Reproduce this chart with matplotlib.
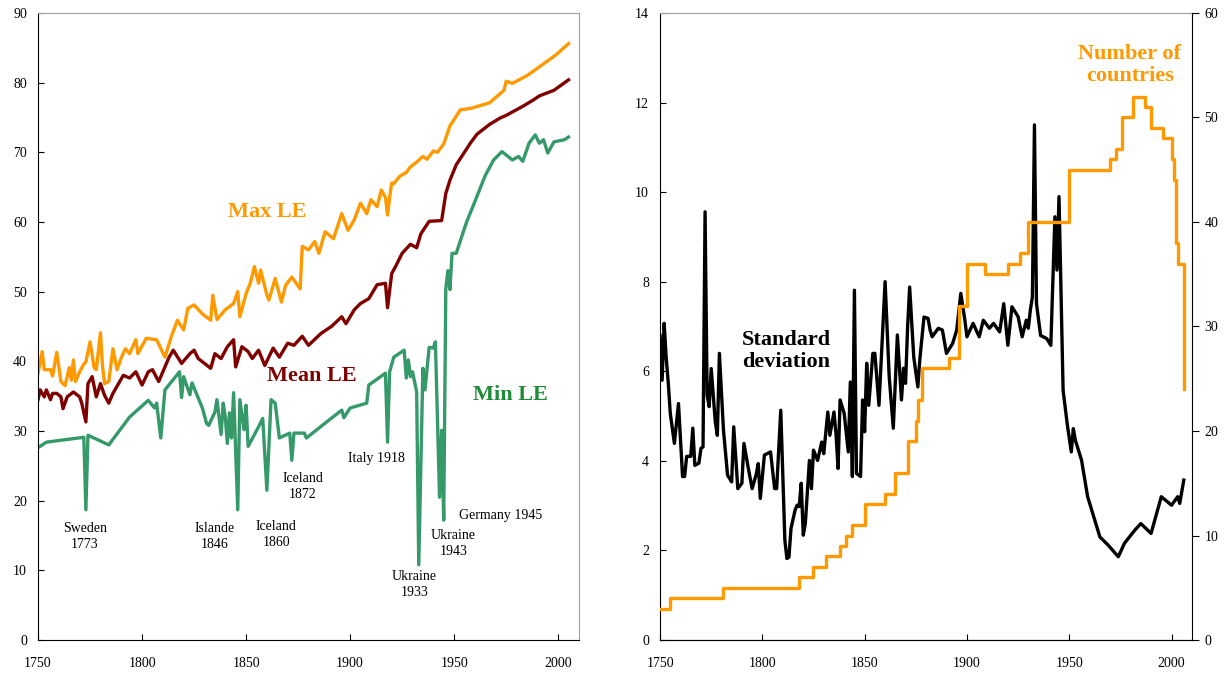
import matplotlib
matplotlib.use("Agg")
import matplotlib.pyplot as plt

plt.rcParams['font.family'] = ['Liberation Serif', 'DejaVu Serif']

# ---- left panel: life expectancy (max / mean / min) ----
max_years = [1750, 1752, 1753, 1756, 1757, 1759, 1761, 1763, 1765, 1766, 1767, 1768, 1770, 1772, 1773,
             1775, 1777, 1778, 1780, 1781, 1782, 1784, 1786, 1788, 1790, 1792, 1794, 1797, 1798, 1802,
             1807, 1811, 1814, 1817, 1820, 1822, 1825, 1829, 1833, 1834, 1836, 1840, 1844, 1846, 1847,
             1850, 1852, 1854, 1856, 1857, 1860, 1861, 1864, 1867, 1869, 1872, 1876, 1877, 1880, 1883,
             1885, 1888, 1892, 1896, 1899, 1902, 1905, 1908, 1910, 1913, 1915, 1917, 1918, 1919, 1920,
             1921, 1924, 1927, 1929, 1932, 1935, 1937, 1940, 1942, 1945, 1948, 1953, 1958, 1967, 1974,
             1975, 1978, 1985, 1993, 1999, 2005]
max_le = [38.3, 41.4, 38.8, 38.8, 37.9, 41.3, 37.1, 36.5, 39.1, 37.3, 40.2, 37.1, 38.5, 39.6, 39.9,
          42.8, 39.1, 38.8, 44.1, 39.3, 36.8, 37.1, 41.8, 38.8, 40.5, 41.8, 41.1, 43.1, 41.1, 43.3,
          43.1, 40.6, 43.5, 45.9, 44.5, 47.6, 48.1, 46.8, 45.9, 49.5, 46.0, 47.4, 48.3, 50.0, 46.4,
          49.7, 51.2, 53.6, 51.2, 53.1, 49.5, 48.8, 51.9, 48.5, 50.9, 52.1, 50.4, 56.5, 56.0, 57.2,
          55.5, 58.6, 57.6, 61.2, 58.8, 60.3, 62.7, 61.2, 63.2, 62.2, 64.6, 63.5, 61.0, 63.5, 65.6,
          65.5, 66.6, 67.1, 67.9, 68.6, 69.4, 69.0, 70.2, 70.0, 71.2, 73.8, 76.1, 76.3, 77.1, 78.9,
          80.2, 79.9, 81.0, 82.7, 84.0, 85.6]

mean_years = [1750, 1751, 1753, 1754, 1756, 1757, 1759, 1761, 1762, 1764, 1767, 1770, 1771, 1773, 1774,
              1776, 1778, 1780, 1782, 1784, 1786, 1791, 1794, 1797, 1800, 1803, 1805, 1808, 1813, 1815,
              1819, 1823, 1825, 1827, 1830, 1833, 1835, 1838, 1841, 1844, 1845, 1848, 1851, 1853, 1856,
              1859, 1863, 1866, 1870, 1873, 1877, 1880, 1886, 1891, 1896, 1898, 1902, 1905, 1909, 1913,
              1917, 1918, 1920, 1922, 1925, 1929, 1932, 1934, 1938, 1944, 1946, 1948, 1951, 1958, 1961,
              1967, 1972, 1975, 1983, 1988, 1991, 1998, 2005]
mean_le = [34.5, 35.9, 34.9, 35.9, 34.5, 35.4, 35.4, 34.9, 33.2, 34.9, 35.6, 34.9, 34.0, 31.3, 36.8,
           37.8, 34.9, 36.8, 35.1, 34.0, 35.4, 38.0, 37.6, 38.5, 36.6, 38.5, 38.8, 37.1, 40.6, 41.6,
           39.7, 41.1, 41.6, 40.4, 39.7, 39.0, 41.1, 40.4, 42.1, 43.1, 39.2, 42.1, 41.4, 40.4, 41.6,
           39.4, 41.9, 40.6, 42.6, 42.3, 43.6, 42.3, 44.0, 45.0, 46.4, 45.4, 47.4, 48.3, 49.0, 51.0,
           51.2, 47.7, 52.6, 53.7, 55.5, 56.8, 56.3, 58.3, 60.1, 60.2, 64.1, 66.0, 68.2, 71.4, 72.6,
           74.0, 74.9, 75.3, 76.6, 77.5, 78.1, 78.9, 80.4]

min_years = [1750, 1754, 1772, 1773, 1774, 1784, 1794, 1803, 1806, 1807, 1809, 1811, 1818, 1819, 1820,
             1823, 1824, 1829, 1831, 1832, 1835, 1836, 1838, 1839, 1840, 1841, 1842, 1843, 1844, 1846,
             1847, 1849, 1850, 1851, 1856, 1858, 1860, 1862, 1864, 1866, 1871, 1872, 1873, 1878, 1879,
             1890, 1896, 1897, 1900, 1908, 1909, 1917, 1918, 1919, 1921, 1926, 1927, 1928, 1929, 1930,
             1932, 1933, 1935, 1936, 1938, 1940, 1941, 1943, 1944, 1945, 1946, 1947, 1948, 1949, 1951,
             1956, 1959, 1965, 1969, 1973, 1978, 1981, 1983, 1986, 1989, 1991, 1993, 1995, 1998, 2003,
             2005]
min_le = [27.6, 28.4, 29.1, 18.7, 29.4, 28.0, 32.0, 34.4, 33.3, 34.0, 29.0, 35.9, 38.5, 34.8, 37.8,
          35.2, 36.9, 33.3, 31.1, 30.8, 32.7, 34.5, 29.5, 34.0, 32.0, 28.2, 32.6, 29.0, 35.5, 18.7,
          34.5, 30.2, 33.7, 27.8, 30.6, 31.8, 21.5, 34.5, 34.0, 29.0, 29.7, 25.8, 29.7, 29.7, 29.0,
          31.6, 33.0, 31.9, 33.3, 34.0, 36.6, 38.3, 28.4, 38.5, 40.6, 41.6, 37.6, 40.2, 37.8, 38.5,
          35.6, 10.8, 39.0, 35.9, 42.0, 41.9, 42.8, 20.5, 30.1, 17.2, 50.4, 53.0, 50.3, 55.5, 55.5,
          60.0, 62.2, 66.7, 68.9, 70.1, 68.9, 69.4, 68.7, 71.3, 72.5, 71.3, 71.8, 69.9, 71.5, 71.8,
          72.2]

events = ["Sweden\n1773", "Islande\n1846", "Iceland\n1860", "Iceland\n1872", "Italy 1918",
          "Ukraine\n1933", "Ukraine\n1943", "Germany 1945"]
event_x = [1772.5, 1835, 1864.5, 1877.3, 1912.5, 1931, 1949.6, 1972.4]
event_y = [14.9, 14.8, 15.2, 22.1, 26.1, 8.0, 13.9, 17.9]

# ---- right panel: dispersion and number of countries ----
sd_years = [1750, 1751, 1752, 1753, 1754, 1755, 1757, 1759, 1761, 1762, 1763, 1765, 1766, 1767, 1769,
            1770, 1771, 1772, 1773, 1774, 1775, 1777, 1778, 1779, 1781, 1783, 1785, 1786, 1788, 1790,
            1791, 1793, 1795, 1797, 1798, 1799, 1801, 1804, 1806, 1807, 1809, 1811, 1812, 1813, 1814,
            1816, 1817, 1818, 1819, 1820, 1821, 1823, 1824, 1825, 1827, 1829, 1830, 1832, 1833, 1835,
            1836, 1837, 1838, 1840, 1842, 1843, 1844, 1845, 1846, 1848, 1849, 1850, 1851, 1852, 1854,
            1855, 1857, 1860, 1862, 1864, 1866, 1868, 1869, 1870, 1871, 1872, 1874, 1876, 1877, 1879,
            1881, 1882, 1883, 1886, 1888, 1890, 1893, 1895, 1897, 1899, 1900, 1903, 1906, 1908, 1911,
            1913, 1916, 1918, 1920, 1922, 1925, 1927, 1929, 1930, 1931, 1932, 1933, 1934, 1936, 1939,
            1941, 1943, 1944, 1945, 1947, 1949, 1951, 1952, 1953, 1956, 1959, 1962, 1965, 1969, 1974,
            1977, 1982, 1985, 1990, 1995, 2000, 2003, 2004, 2006]
sd = [6.8, 5.8, 7.07, 6.3, 5.75, 5.06, 4.39, 5.28, 3.65, 3.65, 4.1, 4.1, 4.73, 3.9, 3.95,
      4.28, 4.31, 9.56, 5.47, 5.21, 6.06, 4.87, 4.57, 6.4, 4.68, 3.68, 3.53, 4.76, 3.38, 3.5,
      4.39, 3.87, 3.38, 3.7, 3.94, 3.16, 4.13, 4.2, 3.38, 3.38, 5.13, 2.23, 1.82, 1.85, 2.49,
      2.9, 3.01, 2.98, 3.5, 2.34, 2.6, 4.01, 3.38, 4.24, 4.01, 4.42, 4.16, 5.09, 4.57, 5.09,
      4.61, 3.83, 5.36, 5.06, 4.2, 5.76, 3.65, 7.81, 3.72, 3.65, 5.36, 4.65, 6.18, 5.24, 6.4,
      6.4, 5.24, 8.0, 5.88, 4.73, 6.81, 5.36, 6.07, 5.73, 6.99, 7.88, 6.32, 5.65, 6.28, 7.21,
      7.18, 6.92, 6.77, 6.96, 6.92, 6.4, 6.62, 6.92, 7.74, 7.14, 6.77, 7.07, 6.77, 7.14, 6.96,
      7.07, 6.88, 7.51, 6.58, 7.44, 7.22, 6.77, 7.14, 6.96, 7.37, 7.66, 11.5, 7.51, 6.8, 6.73,
      6.58, 9.45, 8.26, 9.9, 5.58, 4.83, 4.2, 4.72, 4.46, 4.02, 3.2, 2.75, 2.3, 2.12, 1.86,
      2.16, 2.45, 2.6, 2.38, 3.2, 3.01, 3.2, 3.05, 3.57]

n_years = [1750, 1755, 1781, 1818, 1825, 1831, 1838, 1841, 1844, 1850, 1860, 1865, 1871, 1875, 1876,
           1878, 1891, 1896, 1900, 1909, 1920, 1926, 1930, 1950, 1970, 1973, 1976, 1981, 1987, 1990,
           1996, 2000, 2001, 2002, 2003, 2006]
n_countries = [3, 4, 5, 6, 7, 8, 9, 10, 11, 13, 14, 16, 19, 21, 23,
               26, 27, 32, 36, 35, 36, 37, 40, 45, 46, 47, 50, 52, 51, 49,
               48, 46, 44, 38, 36, 24]

orange = '#FF9900'
darkred = '#800000'
green = '#35996A'
grey = '#A0A0A0'

fig = plt.figure(figsize=(12.31, 6.79), dpi=100)
ax1 = fig.add_axes([0.0309, 0.0574, 0.4394, 0.9235])
ax2 = fig.add_axes([0.5362, 0.0574, 0.4321, 0.9235])

# left panel
ax1.plot(max_years, max_le, color=orange, lw=2.4, solid_joinstyle='round')
ax1.plot(mean_years, mean_le, color=darkred, lw=2.4, solid_joinstyle='round')
ax1.plot(min_years, min_le, color=green, lw=2.4, solid_joinstyle='round')
ax1.set_xlim(1750, 2010)
ax1.set_ylim(0, 90)
ax1.set_xticks([1750, 1800, 1850, 1900, 1950, 2000])
ax1.set_yticks(range(0, 91, 10))
ax1.tick_params(direction='in', length=4, labelsize=10)
ax1.tick_params(axis='x', pad=12)
ax1.tick_params(axis='y', pad=8)
ax1.spines['top'].set_color(grey)
ax1.spines['right'].set_color(grey)

ax1.text(1860, 61.4, "Max LE", color=orange, fontsize=16, fontweight='bold', ha='center', va='center')
ax1.text(1881.6, 37.9, "Mean LE", color=darkred, fontsize=16, fontweight='bold', ha='center', va='center')
ax1.text(1977, 35.2, "Min LE", color='#1E8C35', fontsize=16, fontweight='bold', ha='center', va='center')
for lab, ex, ey in zip(events, event_x, event_y):
    ax1.text(ex, ey, lab, fontsize=10, ha='center', va='center', linespacing=1.3)

# right panel
ax2.plot(sd_years, sd, color='black', lw=2.4, solid_joinstyle='round')
ax2.set_xlim(1750, 2010)
ax2.set_ylim(0, 14)
ax2.set_xticks([1750, 1800, 1850, 1900, 1950, 2000])
ax2.set_yticks(range(0, 15, 2))
ax2.tick_params(direction='in', length=4, labelsize=10)
ax2.tick_params(axis='x', pad=12)
ax2.tick_params(axis='y', pad=8)
ax2.spines['top'].set_color(grey)
ax2.spines['right'].set_visible(False)
ax2.text(1811.5, 6.45, "Standard\ndeviation", fontsize=16, fontweight='bold', ha='center', va='center',
         linespacing=1.15)

ax3 = ax2.twinx()
ax3.plot(n_years, n_countries, color=orange, lw=2.4, drawstyle='steps-post')
ax3.set_ylim(0, 60)
ax3.set_yticks(range(0, 61, 10))
ax3.tick_params(axis='y', direction='out', length=5, labelsize=10, pad=4)
ax3.spines['top'].set_visible(False)
ax3.spines['left'].set_visible(False)
ax3.text(1979.7, 55, "Number of\ncountries", color=orange, fontsize=16, fontweight='bold',
         ha='center', va='center', linespacing=1.15)

fig.savefig("out.png", dpi=100)
